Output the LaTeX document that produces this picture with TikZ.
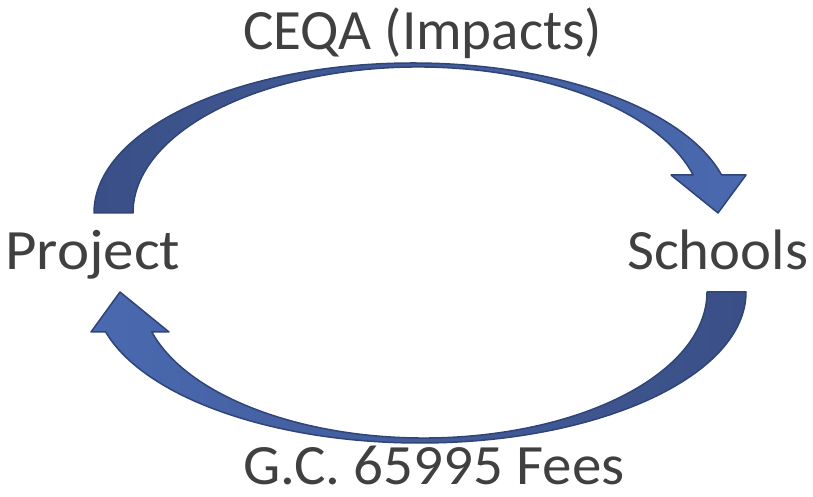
\documentclass[tikz,border=0pt]{standalone}
\usepackage{fontspec}
\setmainfont{Carlito}
\definecolor{txt}{HTML}{404040}
\definecolor{arrdark}{HTML}{3A4F86}
\definecolor{arrlight}{HTML}{4A69AF}
\definecolor{arredge}{HTML}{2F4477}
\begin{document}
\begin{tikzpicture}[x=1pt,y=1pt,
  lbl/.style={anchor=base west, inner sep=0pt, text=txt, font=\fontsize{57}{60}\selectfont},
  blockarrow/.style={draw=arredge, line width=1.5pt, line join=round}]
\useasboundingbox (0,0) rectangle (813,497);
% labels
\node[lbl] (ceqa) at (243,447) {CEQA (Impacts)};
\node[lbl] (project) at (5,227) {\scalebox{1.07}[1]{Project}};
\node[lbl] (schools) at (627,227) {\scalebox{1.03}[1]{Schools}};
\node[lbl] (fees) at (243,12) {\scalebox{1.035}[1]{G.C. 65995 Fees}};
% top arrow: Project -> Schools
\shade[blockarrow, left color=arrdark, right color=arrlight]
  (94,284) arc[start angle=180, end angle=14.68, x radius=319, y radius=150]
  -- (746,322) -- (718,284) -- (671,322)
  -- ([shift={(418,284)}]15.09:285 and 146)
  arc[start angle=15.09, end angle=180, x radius=285, y radius=146] -- cycle;
% bottom arrow: Schools -> Project
\shade[blockarrow, left color=arrlight, right color=arrdark]
  (746,205) arc[start angle=0, end angle=-164.64, x radius=326, y radius=151]
  -- (91,165) -- (120,205) -- (169,165)
  -- ([shift={(424,205)}]-164.1:283 and 146)
  arc[start angle=-164.1, end angle=0, x radius=283, y radius=146] -- cycle;
\end{tikzpicture}
\end{document}
